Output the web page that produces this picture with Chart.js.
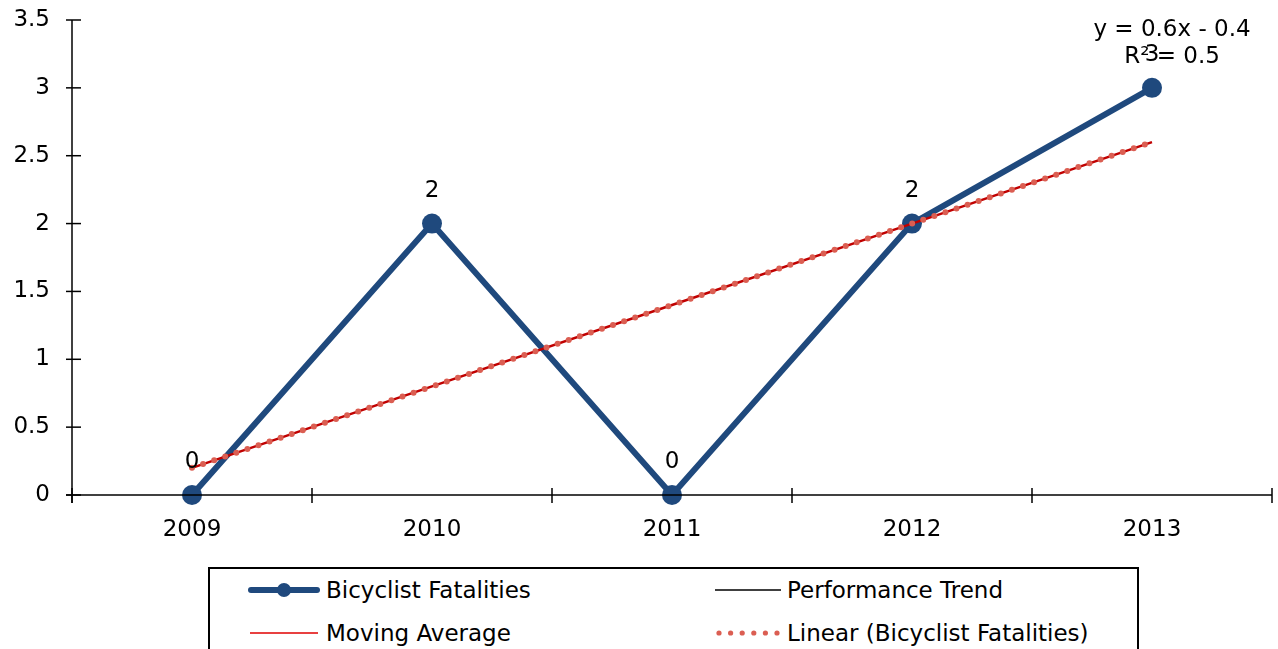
<!DOCTYPE html>
<html>
<head>
<meta charset="utf-8">
<script src="https://cdn.jsdelivr.net/npm/chart.js@4/dist/chart.umd.min.js"></script>
<style>
  html, body { margin: 0; padding: 0; background: #fff; }
  #wrap { position: relative; width: 1278px; height: 649px; overflow: hidden; font-family: "DejaVu Sans", Verdana, sans-serif; }
  canvas { position: absolute; left: 0; top: 0; }
  #legend { position: absolute; left: 208px; top: 567px; width: 931px; height: 120px; border: 2px solid #000; box-sizing: border-box; background: #fff; }
  .item { position: absolute; height: 30px; font-size: 23px; color: #000; white-space: nowrap; line-height: 30px; }
  .item canvas { position: absolute; top: 0; }
  .item span { position: absolute; top: 0; }
</style>
</head>
<body>
<div id="wrap">
  <canvas id="chart" width="1278" height="649"></canvas>
  <div id="legend"></div>
</div>
<script>
const categories = ["2009", "2010", "2011", "2012", "2013"];
const fatalities = [0, 2, 0, 2, 3];
const linearTrend = [0.2, 0.8, 1.4, 2.0, 2.6];
const performanceTrend = [null, null, null, null, null];
const movingAverage = [null, null, null, null, null];
const yTicks = [0, 0.5, 1, 1.5, 2, 2.5, 3, 3.5];
const equationLines = ["y = 0.6x - 0.4", "R² = 0.5"];
const legendNames = ["Bicyclist Fatalities", "Performance Trend", "Moving Average", "Linear (Bicyclist Fatalities)"];

const BLUE = "#1F497D";
const DARKRED = "#C00000";
const DOTRED = "#DB5E52";
const FONT = "DejaVu Sans";
const FS = 23;

const tickPlugin = {
  id: "crossTicks",
  afterDraw(chart) {
    const ctx = chart.ctx;
    const x = chart.scales.x, y = chart.scales.y;
    const ca = chart.chartArea;
    ctx.save();
    ctx.strokeStyle = "#000";
    ctx.lineWidth = 1.5;
    ctx.beginPath();
    ctx.moveTo(ca.left, y.getPixelForValue(3.5));
    ctx.lineTo(ca.left, y.getPixelForValue(0) + 8);
    ctx.stroke();
    ctx.beginPath();
    ctx.moveTo(ca.left - 6, y.getPixelForValue(0));
    ctx.lineTo(ca.right, y.getPixelForValue(0));
    ctx.stroke();
    yTicks.forEach(v => {
      const py = y.getPixelForValue(v);
      ctx.beginPath();
      ctx.moveTo(ca.left - 6, py);
      ctx.lineTo(ca.left + 9, py);
      ctx.stroke();
    });
    for (let i = 0; i <= categories.length; i++) {
      const px = x.getPixelForValue(i - 0.5);
      ctx.beginPath();
      ctx.moveTo(px, y.getPixelForValue(0) - 7);
      ctx.lineTo(px, y.getPixelForValue(0) + 8);
      ctx.stroke();
    }
    ctx.restore();
  }
};

const labelPlugin = {
  id: "valueLabels",
  afterDatasetsDraw(chart) {
    const ctx = chart.ctx;
    ctx.save();
    ctx.font = FS + "px '" + FONT + "'";
    ctx.fillStyle = "#000";
    ctx.textAlign = "center";
    ctx.textBaseline = "middle";
    const meta = chart.getDatasetMeta(0);
    meta.data.forEach((pt, i) => {
      ctx.fillText(String(fatalities[i]), pt.x, pt.y - 33);
    });
    const tm = chart.getDatasetMeta(3);
    const last = tm.data[tm.data.length - 1];
    ctx.fillText(equationLines[0], last.x + 20, last.y - 112);
    ctx.fillText(equationLines[1], last.x + 20, last.y - 85);
    ctx.restore();
  }
};

new Chart(document.getElementById("chart"), {
  type: "line",
  data: {
    labels: categories,
    datasets: [
      {
        label: legendNames[0], data: fatalities, borderColor: BLUE, backgroundColor: BLUE,
        borderWidth: 6, pointRadius: 10, pointBackgroundColor: BLUE, pointBorderWidth: 0,
        tension: 0, order: 3, clip: false
      },
      { label: legendNames[1], data: performanceTrend, borderColor: "#000", borderWidth: 1.5, pointRadius: 0, order: 4 },
      { label: legendNames[2], data: movingAverage, borderColor: DARKRED, borderWidth: 1.5, pointRadius: 0, order: 4 },
      {
        label: legendNames[3], data: linearTrend, borderColor: DARKRED, borderWidth: 2.5,
        pointRadius: 0, tension: 0, order: 2
      },
      {
        label: "dots", data: linearTrend, borderColor: DOTRED, borderWidth: 6,
        borderDash: [0, 11.7], borderCapStyle: "round", pointRadius: 0, tension: 0, order: 1
      }
    ]
  },
  options: {
    responsive: false,
    animation: false,
    events: [],
    layout: { autoPadding: false, padding: { left: 0, top: 20, right: 6, bottom: 0 } },
    plugins: { legend: { display: false }, tooltip: { enabled: false } },
    scales: {
      x: {
        type: "category",
        offset: true,
        grid: { display: false, offset: true },
        border: { display: false },
        ticks: { font: { family: FONT, size: FS }, color: "#000", padding: 13, maxRotation: 0 },
        afterFit(s) { s.height = 154; s.paddingLeft = 0; s.paddingRight = 0; }
      },
      y: {
        min: 0, max: 3.5,
        afterBuildTicks(s) { s.ticks = yTicks.map(v => ({ value: v })); },
        grid: { display: false, drawTicks: false },
        border: { display: false },
        ticks: { font: { family: FONT, size: FS }, color: "#000", padding: 22, callback: v => String(v) },
        afterFit(s) { s.width = 72; s.paddingTop = 0; s.paddingBottom = 0; }
      }
    }
  },
  plugins: [tickPlugin, labelPlugin]
});

const legend = document.getElementById("legend");
const legendPos = [
  { left: 38, top: 6 }, { left: 505, top: 6 }, { left: 38, top: 49 }, { left: 505, top: 49 }
];
const symW = [72, 66, 72, 66];
legendNames.forEach((name, i) => {
  const d = document.createElement("div");
  d.className = "item";
  d.style.left = legendPos[i].left + "px";
  d.style.top = legendPos[i].top + "px";
  const c = document.createElement("canvas");
  c.width = symW[i]; c.height = 30;
  const g = c.getContext("2d");
  g.lineCap = "round";
  if (i === 0) {
    g.strokeStyle = BLUE; g.lineWidth = 6;
    g.beginPath(); g.moveTo(3, 15); g.lineTo(symW[i] - 3, 15); g.stroke();
    g.fillStyle = BLUE; g.beginPath(); g.arc(symW[i] / 2, 15, 7, 0, Math.PI * 2); g.fill();
  } else if (i === 1) {
    g.strokeStyle = "#000"; g.lineWidth = 1.5; g.lineCap = "butt";
    g.beginPath(); g.moveTo(0, 15); g.lineTo(symW[i], 15); g.stroke();
  } else if (i === 2) {
    g.strokeStyle = "#E00000"; g.lineWidth = 1.5; g.lineCap = "butt";
    g.beginPath(); g.moveTo(2, 15); g.lineTo(symW[i] - 2, 15); g.stroke();
  } else {
    g.fillStyle = DOTRED;
    for (let k = 0; k < 6; k++) { g.beginPath(); g.arc(4 + k * 11.6, 15, 2.6, 0, Math.PI * 2); g.fill(); }
  }
  d.appendChild(c);
  const s = document.createElement("span");
  s.textContent = name;
  s.style.left = (symW[i] + 6) + "px";
  d.appendChild(s);
  legend.appendChild(d);
});
</script>
</body>
</html>
